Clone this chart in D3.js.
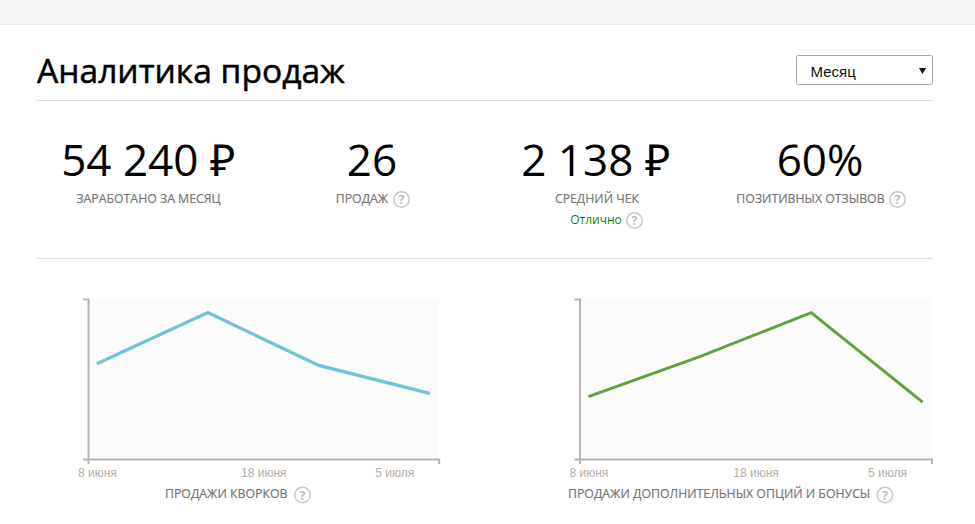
<!DOCTYPE html>
<html lang="ru">
<head>
<meta charset="utf-8">
<title>Аналитика продаж</title>
<script src="https://cdnjs.cloudflare.com/ajax/libs/d3/7.8.5/d3.min.js"></script>
<style>
    html, body { margin: 0; padding: 0; background: #fff; overflow: hidden; }
    svg { display: block; }
    text { font-family: "Open Sans", sans-serif; }
    .axis text { font-family: "Liberation Sans", Arial, sans-serif; font-size: 12px; fill: #b3aeaa; }
    .axis path { fill: none; stroke: #b5b5b5; stroke-width: 2px; }
    .caption { font-size: 12.3px; fill: #777; stroke: #777; stroke-width: 0.2px; }
</style>
</head>
<body>
<div id="chart"></div>
<script>
// Chart values
const pageTitle = 'Аналитика продаж';
const periodLabel = 'Месяц';

const statValues = ['54 240 ₽', '26', '2 138 ₽', '60%'];
const statLabels = ['ЗАРАБОТАНО ЗА МЕСЯЦ', 'ПРОДАЖ', 'СРЕДНИЙ ЧЕК', 'ПОЗИТИВНЫХ ОТЗЫВОВ'];
const statusLabel = 'Отлично';

const periods = [0, 1, 2, 3];
const tickPeriods = [0, 1.5, 2.68];
const tickLabels = ['8 июня', '18 июня', '5 июля'];

const kworkSales = [5.95, 9.15, 5.85, 4.1];
const extraSales = [3.9, 6.4, 9.15, 3.55];
const kworkTitle = 'ПРОДАЖИ КВОРКОВ';
const extraTitle = 'ПРОДАЖИ ДОПОЛНИТЕЛЬНЫХ ОПЦИЙ И БОНУСЫ';

const width = 975;
const height = 524;

const svg = d3.select('#chart')
    .append('svg')
    .attr('width', width)
    .attr('height', height);

// Top strip of the page
svg.append('rect')
    .attr('width', width)
    .attr('height', 24)
    .attr('fill', '#f7f7f7');
svg.append('line')
    .attr('x1', 0).attr('x2', width)
    .attr('y1', 24.5).attr('y2', 24.5)
    .attr('stroke', '#ececec');

// Header
svg.append('text')
    .attr('x', 37)
    .attr('y', 83)
    .attr('font-size', 33.6)
    .attr('fill', '#000')
    .attr('stroke', '#000')
    .attr('stroke-width', 0.5)
    .text(pageTitle);

// Dividers
[100.5, 258.5].forEach(y => {
    svg.append('line')
        .attr('x1', 37).attr('x2', 933)
        .attr('y1', y).attr('y2', y)
        .attr('stroke', '#dedede');
});

// Period dropdown
const select = svg.append('g').attr('transform', 'translate(796.5,55.5)');
select.append('rect')
    .attr('width', 136)
    .attr('height', 29)
    .attr('rx', 2)
    .attr('fill', '#fff')
    .attr('stroke', '#a6a6a6');
select.append('text')
    .attr('x', 14)
    .attr('y', 21)
    .attr('font-size', 15)
    .style('font-family', '"Liberation Sans", Arial, sans-serif')
    .attr('fill', '#111')
    .text(periodLabel);
select.append('path')
    .attr('d', d3.symbol(d3.symbolTriangle, 22))
    .attr('transform', 'translate(126,14.5) rotate(180)')
    .attr('fill', '#111');

// Small round "?" hint
function helpIcon(x, y) {
    const g = svg.append('g').attr('transform', `translate(${x},${y})`);
    g.append('circle')
        .attr('r', 7.7)
        .attr('fill', '#fff')
        .attr('stroke', '#c8c8c8')
        .attr('stroke-width', 1.5);
    g.append('text')
        .attr('text-anchor', 'middle')
        .attr('y', 4.5)
        .attr('font-size', 12.5)
        .attr('font-weight', 700)
        .attr('fill', '#bdbdbd')
        .text('?');
}

// Stats row
const statCenters = [148.5, 372, 596, 820];
const labelCenters = [148.5, 362, 597, 810.5];

statValues.forEach((value, i) => {
    svg.append('text')
        .attr('x', statCenters[i])
        .attr('y', 176)
        .attr('text-anchor', 'middle')
        .attr('font-size', 44)
        .attr('fill', '#000')
        .text(value);
    svg.append('text')
        .attr('class', 'caption')
        .attr('x', labelCenters[i])
        .attr('y', 203)
        .attr('text-anchor', 'middle')
        .text(statLabels[i]);
});
helpIcon(401.5, 199.5);
helpIcon(897.5, 199.5);

svg.append('text')
    .attr('x', 596)
    .attr('y', 224)
    .attr('text-anchor', 'middle')
    .attr('font-size', 12)
    .attr('fill', '#008a00')
    .text(statusLabel);
helpIcon(634.5, 220.5);

// Line chart with a shaded plot area
function drawLine(values, color, lineWidth, left, right, title, titleX, iconX) {
    const top = 299;
    const bottom = 459;

    const x = d3.scaleLinear().domain([-0.08, 3.08]).range([left, right]);
    const y = d3.scaleLinear().domain([0, 10]).range([bottom, top]);

    svg.append('rect')
        .attr('x', left)
        .attr('y', top - 1)
        .attr('width', right - left)
        .attr('height', bottom - top + 1)
        .attr('fill', '#fbfbfb');

    svg.append('g')
        .attr('class', 'axis')
        .attr('transform', `translate(${left},0)`)
        .call(d3.axisLeft(y).tickValues([]).tickSizeOuter(5));

    const xAxis = svg.append('g')
        .attr('class', 'axis')
        .attr('transform', `translate(0,${bottom})`)
        .call(d3.axisBottom(x)
            .tickValues(tickPeriods)
            .tickFormat((d, i) => tickLabels[i])
            .tickSize(0)
            .tickSizeOuter(5)
            .tickPadding(9));
    xAxis.selectAll('.tick line').remove();

    const line = d3.line()
        .x((d, i) => x(periods[i]))
        .y(d => y(d));

    svg.append('path')
        .datum(values)
        .attr('fill', 'none')
        .attr('stroke', color)
        .attr('stroke-width', lineWidth)
        .attr('d', line);

    svg.append('text')
        .attr('class', 'caption')
        .attr('x', titleX)
        .attr('y', 498)
        .text(title);
    helpIcon(iconX, 495);
}

drawLine(kworkSales, '#6fc3dd', 3.3, 88, 438.7, kworkTitle, 165, 302.5);
drawLine(extraSales, '#5ea33f', 3, 579.5, 931.5, extraTitle, 568, 885);
</script>
</body>
</html>
